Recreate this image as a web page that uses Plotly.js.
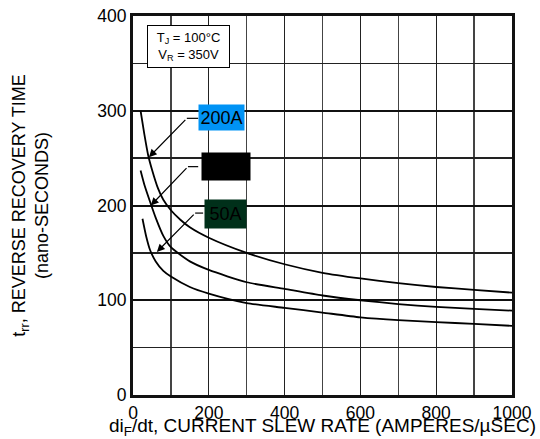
<!DOCTYPE html>
<html><head><meta charset="utf-8">
<script src="https://cdn.plot.ly/plotly-3.0.1.min.js"></script>
<style>html,body{margin:0;padding:0;background:#fff}#chart{width:540px;height:439px}</style>
</head><body><div id="chart"></div>
<script>
// di/dt (A/us) vs trr (ns)
const x200 = [20, 30, 40, 50, 66, 80, 100, 125, 150, 200, 300, 400, 500, 600, 700, 800, 900, 1000];
const y200 = [300, 275, 253, 238, 218, 206, 195, 185, 177, 166, 150, 138, 129, 123, 118, 114, 111, 108];
const x100 = [20, 30, 45, 60, 80, 100, 150, 200, 300, 400, 500, 600, 700, 800, 900, 1000];
const y100 = [237, 222, 204, 187, 168, 156, 141, 132, 119, 112, 105, 100, 96, 93, 91, 89];
const x50 = [25, 35, 45, 60, 80, 100, 150, 200, 300, 400, 500, 600, 700, 800, 900, 1000];
const y50 = [186, 167, 153, 141, 131, 125, 114, 107, 97, 92, 87, 82, 79, 77, 75, 73];
const seriesLabels = ["200A", "100A", "50A"];
const xTickVals = [0, 200, 400, 600, 800, 1000];
const yTickVals = [0, 100, 200, 300, 400];

const font = "Liberation Sans, Arial, sans-serif";
const line = {color: "#000", width: 1.8, shape: "spline", smoothing: 0.6};
const traces = [
  {x: x200, y: y200, mode: "lines", line: line, name: seriesLabels[0]},
  {x: x100, y: y100, mode: "lines", line: line, name: seriesLabels[1]},
  {x: x50, y: y50, mode: "lines", line: line, name: seriesLabels[2]}
];

const arrow = (x, y, ax, ay) => ({x: x, y: y, ax: ax, ay: ay, axref: "x", ayref: "y", xref: "x", yref: "y",
  text: "", showarrow: true, arrowhead: 2, arrowsize: 1.3, arrowwidth: 1.2, arrowcolor: "#000"});
const box = (x, y, t, bg, fc, w, h) => ({x: x, y: y, xref: "x", yref: "y", text: t, showarrow: false,
  bgcolor: bg, width: w, height: h, borderpad: 0, font: {family: font, size: 18, color: fc}});

const layout = {
  width: 540, height: 439,
  margin: {l: 133, r: 28, t: 16, b: 44},
  paper_bgcolor: "#fff", plot_bgcolor: "#fff",
  showlegend: false,
  font: {family: font, size: 16, color: "#000"},
  xaxis: {
    range: [0, 1000], tickvals: xTickVals, ticks: "", showgrid: true,
    gridcolor: "#222", gridwidth: 1.3,
    minor: {dtick: 100, showgrid: true, gridcolor: "#444", gridwidth: 1.3},
    showline: true, linecolor: "#111", linewidth: 3, mirror: true, zeroline: false,
    tickfont: {family: font, size: 17.5},
    title: {text: "di<sub>F</sub>/dt, CURRENT SLEW RATE (AMPERES/µSEC)", font: {family: font, size: 19}, standoff: 0}
  },
  yaxis: {
    range: [0, 400], tickvals: yTickVals, ticks: "", showgrid: true,
    gridcolor: "#111", gridwidth: 2,
    minor: {dtick: 50, showgrid: true, gridcolor: "#222", gridwidth: 1.3},
    showline: true, linecolor: "#111", linewidth: 3, mirror: true, zeroline: false,
    tickfont: {family: font, size: 17.5},
    title: {text: "t<sub>rr</sub>, REVERSE RECOVERY TIME<br>(nano-SECONDS)", font: {family: font, size: 18}, standoff: 44}
  },
  shapes: [
    {type: "line", xref: "x", yref: "y", x0: 142, y0: 292, x1: 172, y1: 292, line: {color: "#000", width: 1.2}},
    {type: "line", xref: "x", yref: "y", x0: 145, y0: 241, x1: 172, y1: 241, line: {color: "#000", width: 1.2}},
    {type: "line", xref: "x", yref: "y", x0: 164, y0: 192, x1: 185, y1: 192, line: {color: "#000", width: 1.2}}
  ],
  annotations: [
    arrow(42, 251, 142, 292),
    arrow(47, 200, 145, 241),
    arrow(63, 151, 164, 192),
    box(233, 293, seriesLabels[0], "#0093f5", "#000", 45, 25),
    box(245, 241, seriesLabels[1], "#000", "#000", 48, 27),
    box(244, 191, seriesLabels[2], "#00301a", "#000", 41, 28),
    {x: 146, y: 368, xref: "x", yref: "y", showarrow: false, bgcolor: "#fff", bordercolor: "#000", borderwidth: 1,
     width: 81, height: 41, borderpad: 0,
     text: "T<sub>J</sub> = 100°C<br>V<sub>R</sub> = 350V", font: {family: font, size: 13, color: "#000"}}
  ]
};
Plotly.newPlot("chart", traces, layout, {staticPlot: true, displayModeBar: false});
</script></body></html>
